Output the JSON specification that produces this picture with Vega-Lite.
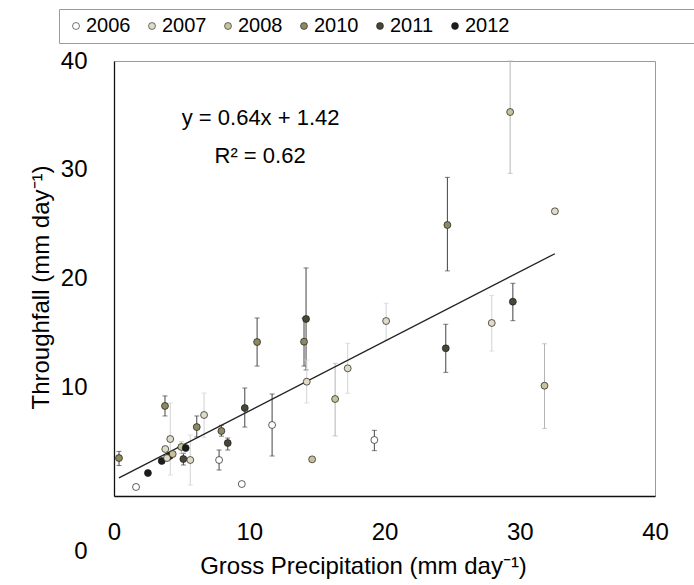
{
  "$schema": "https://vega.github.io/schema/vega-lite/v6.json",
  "autosize": "none",
  "width": 541,
  "height": 435,
  "padding": {"left": 114, "top": 61, "right": 39, "bottom": 89},
  "background": "white",
  "config": {
    "font": "Liberation Sans",
    "view": {"stroke": "#9a9a9a", "strokeWidth": 1},
    "axis": {"grid": false, "ticks": false, "domainColor": "#111", "domainWidth": 1.3, "labelFontSize": 24, "titleFontSize": 24, "labelColor": "#000", "titleColor": "#000", "titleFontWeight": "normal", "labelFont": "Liberation Sans", "titleFont": "Liberation Sans", "labelFlush": false}
  },
  "datasets": {
    "obs": [
      {"year": "2010", "gp": 0.37, "tf": 3.49, "lo": 2.8, "hi": 4.1},
      {"year": "2006", "gp": 1.63, "tf": 0.83, "lo": null, "hi": null},
      {"year": "2012", "gp": 2.51, "tf": 2.11, "lo": null, "hi": null},
      {"year": "2012", "gp": 3.53, "tf": 3.22, "lo": null, "hi": null},
      {"year": "2010", "gp": 3.77, "tf": 8.28, "lo": 7.36, "hi": 9.2},
      {"year": "2007", "gp": 4.16, "tf": 5.24, "lo": 1.93, "hi": 8.55},
      {"year": "2007", "gp": 3.79, "tf": 4.32, "lo": null, "hi": null},
      {"year": "2012", "gp": 4.12, "tf": 3.68, "lo": null, "hi": null},
      {"year": "2007", "gp": 3.92, "tf": 3.49, "lo": null, "hi": null},
      {"year": "2008", "gp": 4.34, "tf": 3.86, "lo": null, "hi": null},
      {"year": "2008", "gp": 4.98, "tf": 4.51, "lo": 3.93, "hi": 4.99},
      {"year": "2012", "gp": 5.3, "tf": 4.41, "lo": null, "hi": null},
      {"year": "2011", "gp": 5.13, "tf": 3.4, "lo": 2.85, "hi": 3.93},
      {"year": "2007", "gp": 5.64, "tf": 3.31, "lo": 1.01, "hi": 5.61},
      {"year": "2010", "gp": 6.12, "tf": 6.34, "lo": 5.43, "hi": 7.36},
      {"year": "2007", "gp": 6.66, "tf": 7.45, "lo": 5.4, "hi": 9.47},
      {"year": "2006", "gp": 7.77, "tf": 3.31, "lo": 2.39, "hi": 4.23},
      {"year": "2010", "gp": 7.94, "tf": 5.98, "lo": 5.5, "hi": 6.5},
      {"year": "2011", "gp": 8.41, "tf": 4.87, "lo": 4.23, "hi": 5.33},
      {"year": "2011", "gp": 9.67, "tf": 8.09, "lo": 6.34, "hi": 9.93},
      {"year": "2006", "gp": 9.45, "tf": 1.1, "lo": null, "hi": null},
      {"year": "2010", "gp": 10.58, "tf": 14.16, "lo": 11.95, "hi": 16.37},
      {"year": "2006", "gp": 11.69, "tf": 6.53, "lo": 3.68, "hi": 9.38},
      {"year": "2011", "gp": 14.2, "tf": 16.28, "lo": 11.59, "hi": 20.97},
      {"year": "2010", "gp": 14.05, "tf": 14.19, "lo": 11.95, "hi": 16.37},
      {"year": "2007", "gp": 14.25, "tf": 10.51, "lo": 8.55, "hi": 12.5},
      {"year": "2008", "gp": 14.65, "tf": 3.37, "lo": null, "hi": null},
      {"year": "2008", "gp": 16.35, "tf": 8.92, "lo": 5.52, "hi": 12.2},
      {"year": "2007", "gp": 17.28, "tf": 11.74, "lo": 9.44, "hi": 14.04},
      {"year": "2006", "gp": 19.25, "tf": 5.15, "lo": 4.17, "hi": 6.04},
      {"year": "2007", "gp": 20.12, "tf": 16.09, "lo": 14.34, "hi": 17.72},
      {"year": "2011", "gp": 24.53, "tf": 13.58, "lo": 11.37, "hi": 15.79},
      {"year": "2010", "gp": 24.65, "tf": 24.92, "lo": 20.7, "hi": 29.3},
      {"year": "2007", "gp": 27.93, "tf": 15.91, "lo": 13.33, "hi": 18.45},
      {"year": "2011", "gp": 29.49, "tf": 17.87, "lo": 16.12, "hi": 19.56},
      {"year": "2008", "gp": 29.29, "tf": 35.31, "lo": 29.67, "hi": 40},
      {"year": "2008", "gp": 31.83, "tf": 10.14, "lo": 6.22, "hi": 14.0},
      {"year": "2007", "gp": 32.6, "tf": 26.18, "lo": null, "hi": null}
    ],
    "fit": [
      {"gp": 0.37, "tf": 1.66},
      {"gp": 32.6, "tf": 22.28}
    ],
    "notes": [
      {"gp": 10.84, "tf": 34.78, "label": "y = 0.64x + 1.42"},
      {"gp": 10.8, "tf": 31.26, "label": "R² = 0.62"}
    ]
  },
  "encoding": {
    "x": {"field": "gp", "type": "quantitative", "scale": {"domain": [0, 40], "nice": false, "zero": false},
      "axis": {"values": [0, 10, 20, 30, 40], "labelPadding": 24, "title": "Gross Precipitation (mm day⁻¹)", "titleX": 249, "titleY": 77, "titleBaseline": "alphabetic", "titleAlign": "center"}},
    "y": {"field": "tf", "type": "quantitative", "scale": {"domain": [0, 40], "nice": false, "zero": false},
      "axis": {"values": [0, 10, 20, 30, 40], "labelPadding": 27, "labelOffset": {"condition": {"test": "datum.value === 0", "value": 55}, "value": 0}, "title": "Throughfall (mm day⁻¹)", "titleX": -66, "titleY": 226, "titleBaseline": "alphabetic", "titleAlign": "center", "titleAngle": 270}}
  },
  "layer": [
    {
      "data": {"name": "obs"},
      "transform": [{"filter": "datum.lo != null && (datum.year == '2006' || datum.year == '2010' || datum.year == '2011')"}],
      "mark": {"type": "errorbar", "color": "#444444", "ticks": {"size": 5}},
      "encoding": {
        "y": {"field": "lo", "type": "quantitative"},
        "y2": {"field": "hi"}
      }
    },
    {
      "data": {"name": "obs"},
      "transform": [{"filter": "datum.lo != null && datum.year == '2007'"}],
      "mark": {"type": "errorbar", "color": "#d2d2d2", "ticks": {"size": 5}},
      "encoding": {
        "y": {"field": "lo", "type": "quantitative"},
        "y2": {"field": "hi"}
      }
    },
    {
      "data": {"name": "obs"},
      "transform": [{"filter": "datum.lo != null && datum.year == '2008'"}],
      "mark": {"type": "errorbar", "color": "#b4b4b4", "ticks": {"size": 5}},
      "encoding": {
        "y": {"field": "lo", "type": "quantitative"},
        "y2": {"field": "hi"}
      }
    },
    {
      "data": {"name": "fit"},
      "mark": {"type": "line", "color": "#222222", "strokeWidth": 1.3},
      "encoding": {}
    },
    {
      "data": {"name": "obs"},
      "mark": {"type": "circle", "stroke": "#1a1a1a", "strokeWidth": 0.7, "opacity": 1},
      "encoding": {
        "fill": {"field": "year", "type": "nominal",
          "scale": {"domain": ["2006", "2007", "2008", "2010", "2011", "2012"], "range": ["#ffffff", "#dfdbc6", "#c7c299", "#8e895f", "#4a4637", "#1c1c1c"]},
          "legend": {"orient": "none", "legendX": -55, "legendY": -52, "direction": "horizontal",
            "title": "MMMMMMMMMMMMMMMMMM", "titleOrient": "right", "titleLimit": 184, "titleFontSize": 14, "titleOpacity": 0, "titlePadding": 0,
            "strokeColor": "#9a9a9a", "padding": 7, "labelFontSize": 20, "labelOffset": 0, "columnPadding": 11,
            "symbolStrokeColor": "#1a1a1a", "symbolStrokeWidth": 0.6, "labelFont": "Liberation Sans", "labelColor": "#000"}},
        "size": {"field": "year", "type": "nominal",
          "scale": {"domain": ["2006", "2007", "2008", "2010", "2011", "2012"], "range": [48, 48, 48, 48, 48, 30]}}
      }
    },
    {
      "data": {"name": "notes"},
      "mark": {"type": "text", "fontSize": 22, "align": "center", "baseline": "middle", "color": "#000", "font": "Liberation Sans"},
      "encoding": {"text": {"field": "label"}}
    }
  ]
}
